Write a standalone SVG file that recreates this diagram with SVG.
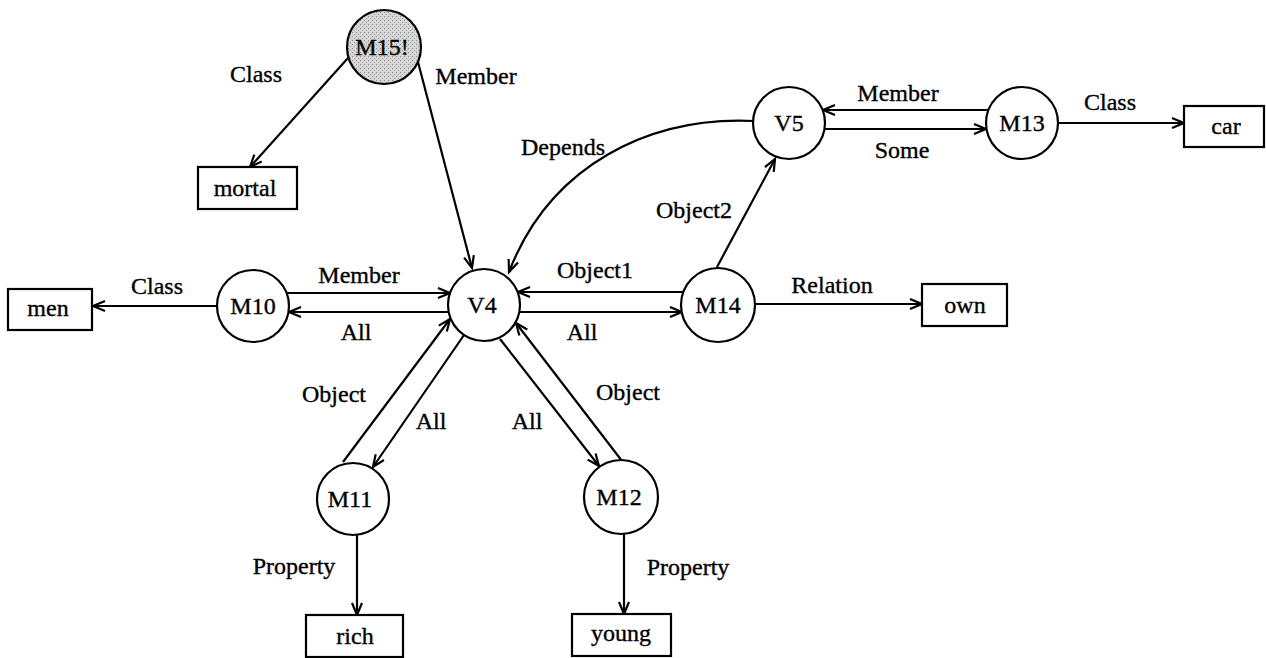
<svg xmlns="http://www.w3.org/2000/svg" width="1266" height="658" viewBox="0 0 1266 658">
<style>
text{font-family:"Liberation Serif","Times New Roman",serif;font-size:24px;fill:#000;stroke:#000;stroke-width:0.35;text-anchor:middle}
.n{fill:#fff;stroke:#000;stroke-width:2.2}
.b{fill:#fff;stroke:#000;stroke-width:2.2}
.e{fill:none;stroke:#000;stroke-width:2.2;marker-end:url(#ah)}
</style>
<defs>
<marker id="ah" markerUnits="userSpaceOnUse" markerWidth="16" markerHeight="14" refX="13" refY="7" orient="auto">
<path d="M1,2 L13,7 L1,12" fill="none" stroke="#000" stroke-width="2.2"/>
</marker>
<pattern id="stip" width="4" height="4" patternUnits="userSpaceOnUse">
<rect width="4" height="4" fill="#d6d6d6"/>
<rect x="0" y="0" width="1" height="1" fill="#8a8a8a"/>
<rect x="2" y="2" width="1" height="1" fill="#9a9a9a"/>
</pattern>
</defs>
<g id="connectors">
<line class="e" x1="348" y1="58" x2="250" y2="167"/>
<line class="e" x1="418" y1="62" x2="472" y2="268"/>
<path class="e" d="M754,121 C650,116 550,165 509,272"/>
<line class="e" x1="988" y1="110" x2="823" y2="110"/>
<line class="e" x1="825" y1="129" x2="986" y2="129"/>
<line class="e" x1="1058" y1="123" x2="1184" y2="123"/>
<line class="e" x1="717" y1="267" x2="775" y2="159"/>
<line class="e" x1="217" y1="306" x2="93" y2="306"/>
<line class="e" x1="287" y1="293" x2="450" y2="293"/>
<line class="e" x1="449" y1="312" x2="289" y2="312"/>
<line class="e" x1="683" y1="292" x2="518" y2="292"/>
<line class="e" x1="519" y1="312" x2="682" y2="312"/>
<line class="e" x1="755" y1="304" x2="922" y2="304"/>
<line class="e" x1="343" y1="462" x2="450" y2="319"/>
<line class="e" x1="464" y1="335" x2="373" y2="467"/>
<line class="e" x1="500" y1="339" x2="599" y2="466"/>
<line class="e" x1="622" y1="461" x2="516" y2="323"/>
<line class="e" x1="357" y1="535" x2="357" y2="615"/>
<line class="e" x1="624" y1="533" x2="624" y2="614"/>
</g>
<g id="edge-labels">
<text x="256" y="82">Class</text>
<text x="476" y="84">Member</text>
<text x="563" y="155">Depends</text>
<text x="898" y="101">Member</text>
<text x="902" y="158">Some</text>
<text x="1110" y="110">Class</text>
<text x="694" y="218">Object2</text>
<text x="157" y="294">Class</text>
<text x="359" y="283">Member</text>
<text x="356" y="340">All</text>
<text x="595" y="278">Object1</text>
<text x="582" y="340">All</text>
<text x="832" y="293">Relation</text>
<text x="334" y="402">Object</text>
<text x="431" y="429">All</text>
<text x="527" y="429">All</text>
<text x="628" y="400">Object</text>
<text x="294" y="574">Property</text>
<text x="688" y="575">Property</text>
</g>
<g id="M15"><circle cx="384" cy="47" r="37" fill="url(#stip)" stroke="#000" stroke-width="2.2"/><text x="382" y="55">M15!</text></g>
<g id="V4"><circle class="n" cx="484" cy="305" r="36"/><text x="482" y="313">V4</text></g>
<g id="V5"><circle class="n" cx="789" cy="123" r="36"/><text x="789" y="131">V5</text></g>
<g id="M13"><circle class="n" cx="1022" cy="123" r="36"/><text x="1022" y="131">M13</text></g>
<g id="M10"><circle class="n" cx="253" cy="306" r="36"/><text x="253" y="314">M10</text></g>
<g id="M14"><circle class="n" cx="718" cy="305" r="37"/><text x="718" y="313">M14</text></g>
<g id="M11"><circle class="n" cx="353" cy="499" r="36"/><text x="350" y="507">M11</text></g>
<g id="M12"><circle class="n" cx="621" cy="497" r="37"/><text x="619" y="505">M12</text></g>
<g id="mortal"><rect class="b" x="198" y="167" width="99" height="42"/><text x="245" y="196">mortal</text></g>
<g id="men"><rect class="b" x="8" y="289" width="84" height="41"/><text x="48" y="316">men</text></g>
<g id="car"><rect class="b" x="1184" y="106" width="80" height="41"/><text x="1226" y="134">car</text></g>
<g id="own"><rect class="b" x="922" y="284" width="85" height="42"/><text x="965" y="313">own</text></g>
<g id="rich"><rect class="b" x="306" y="615" width="97" height="42"/><text x="355" y="644">rich</text></g>
<g id="young"><rect class="b" x="572" y="614" width="99" height="42"/><text x="621" y="641">young</text></g>
</svg>
